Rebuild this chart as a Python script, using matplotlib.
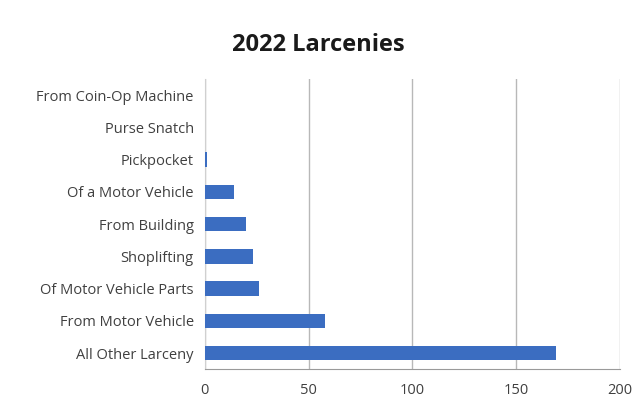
import matplotlib
matplotlib.use("Agg")
import matplotlib.pyplot as plt

# categories listed bottom to top
categories = [
    "All Other Larceny",
    "From Motor Vehicle",
    "Of Motor Vehicle Parts",
    "Shoplifting",
    "From Building",
    "Of a Motor Vehicle",
    "Pickpocket",
    "Purse Snatch",
    "From Coin-Op Machine",
]
counts = [169, 58, 26, 23, 20, 14, 1, 0, 0]
x_ticks = [0, 50, 100, 150, 200]

plt.rcParams["font.family"] = ["Open Sans", "DejaVu Sans"]

fig = plt.figure(figsize=(6.36, 4.03), dpi=100)
ax = fig.add_axes([0.322, 0.084, 0.653, 0.72])

ax.barh(categories, counts, height=0.45, color="#3b6dc1", linewidth=0, zorder=3)

ax.set_xlim(0, 200)
ax.set_xticks(x_ticks)
ax.set_ylim(-0.5, len(categories) - 0.5)
ax.grid(axis="x", color="#b8b8b8", linewidth=1, zorder=0)
ax.tick_params(axis="both", labelsize=10.5, colors="#404040", length=3)
ax.tick_params(axis="y", pad=8, length=0)
ax.tick_params(axis="x", length=0, pad=10)

for side in ["top", "right"]:
    ax.spines[side].set_visible(False)
ax.spines["left"].set_color("#d0d0d0")
ax.spines["bottom"].set_color("#9a9a9a")

fig.text(0.5, 0.888, "2022 Larcenies", ha="center", va="center",
         fontsize=17, fontweight="bold", color="#1a1a1a")

fig.savefig("out.png", dpi=100)
